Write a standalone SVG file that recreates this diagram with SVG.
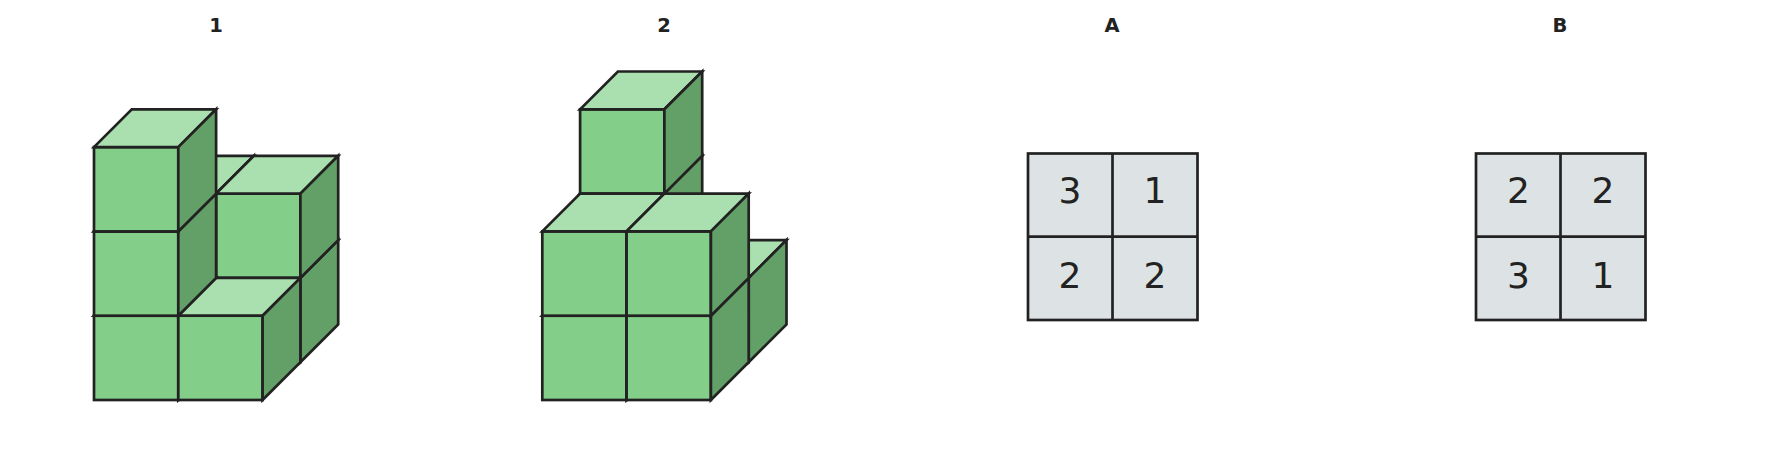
<svg xmlns="http://www.w3.org/2000/svg" xmlns:xlink="http://www.w3.org/1999/xlink" width="1776" height="452" viewBox="0 0 1776 452">
  <style>
    .front { fill: #83cf89; }
    .top { fill: #aadfaf; }
    .side { fill: #62a067; }
    .edge { stroke: #222222; stroke-width: 2.7; stroke-linejoin: miter; }
    .cell { fill: #dde2e5; stroke: #222222; stroke-width: 2.7; }
    .grid { stroke: #222222; stroke-width: 2.7; fill: none; }
    .label { font-family: "DejaVu Sans", sans-serif; font-weight: bold; font-size: 19.5px; fill: #222222; text-anchor: middle; }
    .num { font-family: "DejaVu Sans", sans-serif; font-size: 36px; fill: #222222; text-anchor: middle; }
  </style>
  <defs>
    <g id="cube">
      <rect class="front edge" x="0" y="-84.3" width="84.3" height="84.3"/>
      <polygon class="top edge" points="0,-84.3 84.3,-84.3 122.1,-122.1 37.8,-122.1"/>
      <polygon class="side edge" points="84.3,-84.3 122.1,-122.1 122.1,-37.8 84.3,0"/>
    </g>
  </defs>
  <rect width="1776" height="452" fill="#ffffff"/>

  <g id="figure1">
    <text class="label" x="216" y="32">1</text>
    <use xlink:href="#cube" x="131.8" y="362.2"/>
    <use xlink:href="#cube" x="216.1" y="362.2"/>
    <use xlink:href="#cube" x="131.8" y="277.9"/>
    <use xlink:href="#cube" x="216.1" y="277.9"/>
    <use xlink:href="#cube" x="94" y="400"/>
    <use xlink:href="#cube" x="178.3" y="400"/>
    <use xlink:href="#cube" x="94" y="315.7"/>
    <use xlink:href="#cube" x="94" y="231.4"/>
  </g>

  <g id="figure2">
    <text class="label" x="664" y="32">2</text>
    <use xlink:href="#cube" x="580.1" y="362.2"/>
    <use xlink:href="#cube" x="664.4" y="362.2"/>
    <use xlink:href="#cube" x="580.1" y="277.9"/>
    <use xlink:href="#cube" x="580.1" y="193.6"/>
    <use xlink:href="#cube" x="542.3" y="400"/>
    <use xlink:href="#cube" x="626.6" y="400"/>
    <use xlink:href="#cube" x="542.3" y="315.7"/>
    <use xlink:href="#cube" x="626.6" y="315.7"/>
  </g>

  <g id="gridA">
    <text class="label" x="1112" y="32">A</text>
    <rect class="cell" x="1028" y="153.5" width="169.5" height="166.5"/>
    <line class="grid" x1="1112.5" y1="153.5" x2="1112.5" y2="320"/>
    <line class="grid" x1="1028" y1="236.7" x2="1197.5" y2="236.7"/>
    <text class="num" x="1070" y="203.3">3</text>
    <text class="num" x="1155" y="203.3">1</text>
    <text class="num" x="1070" y="287.5">2</text>
    <text class="num" x="1155" y="287.5">2</text>
  </g>

  <g id="gridB">
    <text class="label" x="1560" y="32">B</text>
    <rect class="cell" x="1476" y="153.5" width="169.5" height="166.5"/>
    <line class="grid" x1="1560.5" y1="153.5" x2="1560.5" y2="320"/>
    <line class="grid" x1="1476" y1="236.7" x2="1645.5" y2="236.7"/>
    <text class="num" x="1518.5" y="203.3">2</text>
    <text class="num" x="1603" y="203.3">2</text>
    <text class="num" x="1518.5" y="287.5">3</text>
    <text class="num" x="1603" y="287.5">1</text>
  </g>

  <g id="connectors"></g>
</svg>
